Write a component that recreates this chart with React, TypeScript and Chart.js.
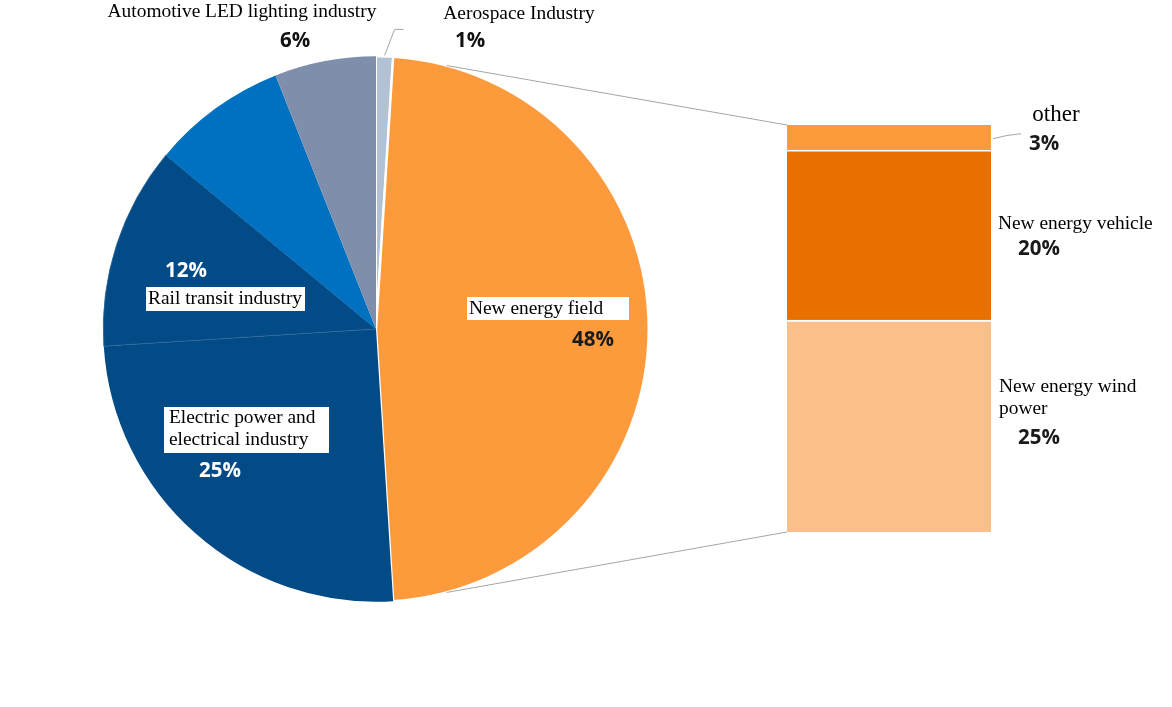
import React, { useEffect, useRef } from "react";
import { Chart, registerables } from "chart.js";

Chart.register(...registerables);

const W = 1172;
const H = 707;

// ---- Pie data (clockwise from 12 o'clock) ----
const pieCategories = [
  "Aerospace Industry",
  "New energy field",
  "Electric power and electrical industry",
  "Rail transit industry",
  "Other industries",
  "Automotive LED lighting industry",
];
const pieValues = [1, 48, 25, 12, 8, 6];
const pieColors = ["#b3c1d5", "#fd9a3b", "#024b86", "#024b86", "#0070c0", "#7f8fab"];
const pieBorderColors = ["#ffffff", "#ffffff", "#ffffff", "#2a6699", "#ffffff", "#ffffff"];
const pieBorderWidths = [2, 2.5, 0, 0.8, 0, 0];
const pieLabelLines = [
  ["Aerospace Industry"],
  ["New energy field"],
  ["Electric power and", "electrical industry"],
  ["Rail transit industry"],
  [],
  ["Automotive LED lighting industry"],
];

// ---- Breakdown bar data (bottom to top) ----
const barCategories = ["New energy wind power", "New energy vehicle", "other"];
const barValues = [25, 20, 3];
const barColors = ["#fdbf8a", "#e86f00", "#fd9a3b"];
const barLabelLines = [["New energy wind", "power"], ["New energy vehicle"], ["other"]];

// ---- Label layout (offsets from pie centre / bar right edge, px) ----
const SERIF = "'Liberation Serif', 'Times New Roman', serif";
const PCT_FONT = "bold 20.5px 'Open Sans', 'Liberation Sans', sans-serif";
const NAME_FONT = `19.4px ${SERIF}`;
const LINE_H = 22;

type PieLabel = {
  align: "left" | "center";
  tx: number;
  ty: number;
  box?: [number, number, number, number];
  pct: [number, number];
  pctColor: string;
} | null;

const pieLabelLayout: PieLabel[] = [
  { align: "center", tx: 143, ty: -315, pct: [94, -288], pctColor: "#111" },
  { align: "left", tx: 93, ty: -20, box: [91, -32, 162, 23], pct: [217, 11], pctColor: "#1a1a1a" },
  { align: "left", tx: -207, ty: 89, box: [-212, 78, 165, 46], pct: [-156, 142], pctColor: "#ffffff" },
  { align: "left", tx: -228, ty: -30, box: [-230, -42, 159, 24], pct: [-190, -58], pctColor: "#ffffff" },
  null,
  { align: "center", tx: -134, ty: -317, pct: [-81, -288], pctColor: "#111" },
];

type BarLabel = {
  align: "left" | "center";
  tx: number;
  ty: number;
  font: string;
  pct: [number, number];
};
const barLabelLayout: BarLabel[] = [
  { align: "left", tx: 8, ty: 67, font: NAME_FONT, pct: [48, 118] },
  { align: "left", tx: 7, ty: 73, font: NAME_FONT, pct: [48, 99] },
  { align: "center", tx: 65, ty: -10, font: `23px ${SERIF}`, pct: [53, 19] },
];

const LINE_COLOR = "#a6a6a6";

const pctText = (v: number, total: number) => `${Math.round((v / total) * 100)}%`;

const pieLabelPlugin = {
  id: "pieLabels",
  afterDraw(chart: any) {
    const ctx: CanvasRenderingContext2D = chart.ctx;
    const arcs = chart.getDatasetMeta(0).data;
    const total = pieValues.reduce((a, b) => a + b, 0);
    ctx.save();
    ctx.textBaseline = "middle";
    arcs.forEach((arc: any, i: number) => {
      const spec = pieLabelLayout[i];
      if (!spec) return;
      const { x, y } = arc.getProps(["x", "y"], true);
      if (spec.box) {
        ctx.fillStyle = "#ffffff";
        ctx.fillRect(x + spec.box[0], y + spec.box[1], spec.box[2], spec.box[3]);
      }
      ctx.fillStyle = "#000";
      ctx.font = NAME_FONT;
      ctx.textAlign = spec.align;
      pieLabelLines[i].forEach((line, k) => {
        ctx.fillText(line, x + spec.tx, y + spec.ty + k * LINE_H);
      });
      ctx.font = PCT_FONT;
      ctx.textAlign = "center";
      ctx.fillStyle = spec.pctColor;
      ctx.fillText(pctText(pieValues[i], total), x + spec.pct[0], y + spec.pct[1]);
    });
    // leader line for the tiny aerospace slice
    const a0 = arcs[0].getProps(["x", "y", "startAngle", "endAngle", "outerRadius"], true);
    const mid = (a0.startAngle + a0.endAngle) / 2;
    const px = a0.x + (a0.outerRadius + 1) * Math.cos(mid);
    const py = a0.y + (a0.outerRadius + 1) * Math.sin(mid);
    ctx.strokeStyle = LINE_COLOR;
    ctx.lineWidth = 1;
    ctx.beginPath();
    ctx.moveTo(px, py);
    ctx.lineTo(px + 10, py - 26);
    ctx.lineTo(px + 19, py - 26);
    ctx.stroke();
    ctx.restore();
  },
};

const makeBarPlugin = (pie: Chart) => ({
  id: "barLabels",
  afterDraw(chart: any) {
    const ctx: CanvasRenderingContext2D = chart.ctx;
    const total = pieValues.reduce((a, b) => a + b, 0);
    ctx.save();
    // connector lines from the exploded pie slice to the bar
    const arc: any = pie.getDatasetMeta(0).data[1];
    const a = arc.getProps(["x", "y", "startAngle", "endAngle", "outerRadius"], true);
    const mid = (a.startAngle + a.endAngle) / 2;
    const spread = (75 * Math.PI) / 180;
    const topEl: any = chart.getDatasetMeta(barValues.length - 1).data[0];
    const botEl: any = chart.getDatasetMeta(0).data[0];
    const tp = topEl.getProps(["x", "y", "base", "width"], true);
    const bp = botEl.getProps(["x", "y", "base", "width"], true);
    ctx.strokeStyle = LINE_COLOR;
    ctx.lineWidth = 1;
    ctx.beginPath();
    ctx.moveTo(a.x + a.outerRadius * Math.cos(mid - spread), a.y + a.outerRadius * Math.sin(mid - spread));
    ctx.lineTo(tp.x - tp.width / 2, tp.y);
    ctx.moveTo(a.x + a.outerRadius * Math.cos(mid + spread), a.y + a.outerRadius * Math.sin(mid + spread));
    ctx.lineTo(bp.x - bp.width / 2, bp.base);
    ctx.stroke();

    ctx.textBaseline = "middle";
    barValues.forEach((v, i) => {
      const el: any = chart.getDatasetMeta(i).data[0];
      const p = el.getProps(["x", "y", "base", "width"], true);
      const right = p.x + p.width / 2;
      const top = p.y;
      const spec = barLabelLayout[i];
      ctx.fillStyle = "#000";
      ctx.font = spec.font;
      ctx.textAlign = spec.align;
      barLabelLines[i].forEach((line, k) => {
        ctx.fillText(line, right + spec.tx, top + spec.ty + k * LINE_H);
      });
      ctx.font = PCT_FONT;
      ctx.textAlign = "center";
      ctx.fillStyle = "#1a1a1a";
      ctx.fillText(pctText(v, total), right + spec.pct[0], top + spec.pct[1]);
    });
    // leader for "other"
    const o: any = chart.getDatasetMeta(barValues.length - 1).data[0];
    const op = o.getProps(["x", "y", "base", "width"], true);
    const ox = op.x + op.width / 2 + 2;
    const oy = (op.y + op.base) / 2 + 1;
    ctx.strokeStyle = LINE_COLOR;
    ctx.beginPath();
    ctx.moveTo(ox, oy);
    ctx.quadraticCurveTo(ox + 14, oy - 4, ox + 28, oy - 5);
    ctx.stroke();
    ctx.restore();
  },
});

export default function App() {
  const pieRef = useRef<HTMLCanvasElement>(null);
  const barRef = useRef<HTMLCanvasElement>(null);

  useEffect(() => {
    if (!pieRef.current || !barRef.current) return;
    const pie = new Chart(pieRef.current, {
      type: "pie",
      data: {
        labels: pieCategories,
        datasets: [
          {
            data: pieValues,
            backgroundColor: pieColors,
            borderColor: pieBorderColors,
            borderWidth: pieBorderWidths,
          },
        ],
      },
      options: {
        responsive: false,
        animation: false,
        devicePixelRatio: 1,
        layout: { padding: { left: 102, top: 55, right: 522, bottom: 104 } },
        plugins: { legend: { display: false }, tooltip: { enabled: false } },
      },
      plugins: [pieLabelPlugin],
    } as any);

    const borderTops = [2, 1.5, 0];
    const bar = new Chart(barRef.current, {
      type: "bar",
      data: {
        labels: [""],
        datasets: barValues.map((v, i) => ({
          label: barCategories[i],
          data: [v],
          backgroundColor: barColors[i],
          borderColor: "#ffffff",
          borderWidth: { top: borderTops[i], left: 0, right: 0, bottom: 0 },
          borderSkipped: false,
          barPercentage: 1,
          categoryPercentage: 1,
        })),
      },
      options: {
        responsive: false,
        animation: false,
        devicePixelRatio: 1,
        layout: { padding: { left: 787, right: 181, top: 125, bottom: 175 } },
        scales: {
          x: { stacked: true, display: false },
          y: { stacked: true, display: false, min: 0, max: barValues.reduce((a, b) => a + b, 0) },
        },
        plugins: { legend: { display: false }, tooltip: { enabled: false } },
      },
      plugins: [makeBarPlugin(pie)],
    } as any);

    return () => {
      bar.destroy();
      pie.destroy();
    };
  }, []);

  return (
    <div style={{ position: "fixed", left: 0, top: 0, width: W, height: H, background: "#ffffff" }}>
      <canvas ref={pieRef} width={W} height={H} style={{ position: "absolute", left: 0, top: 0 }} />
      <canvas
        ref={barRef}
        width={W}
        height={H}
        style={{ position: "absolute", left: 0, top: 0, pointerEvents: "none" }}
      />
    </div>
  );
}
